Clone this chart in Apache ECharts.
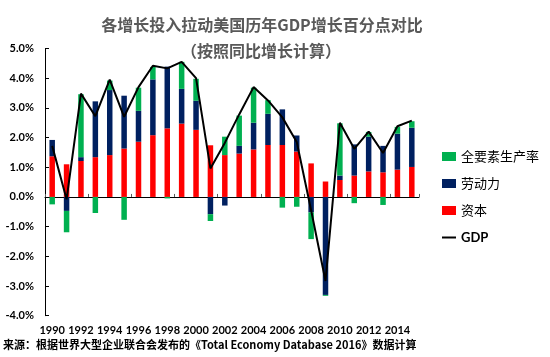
<!DOCTYPE html>
<html>
<head>
<meta charset="utf-8">
<script src="https://cdn.jsdelivr.net/npm/echarts@6/dist/echarts.min.js"></script>
<style>html,body{margin:0;padding:0;background:#fff;}#c{width:550px;height:357px;}</style>
</head>
<body>
<div id="c"></div>
<script>
const years = ['1990','1991','1992','1993','1994','1995','1996','1997','1998','1999','2000','2001','2002','2003','2004','2005','2006','2007','2008','2009','2010','2011','2012','2013','2014','2015'];
const capital = [1.37,1.10,1.21,1.34,1.41,1.63,1.86,2.08,2.31,2.47,2.26,1.74,1.41,1.46,1.60,1.75,1.75,1.53,1.13,0.52,0.57,0.72,0.86,0.83,0.92,1.01];
const labor   = [0.55,-0.47,0.13,1.88,2.19,1.78,1.04,1.88,2.08,1.17,0.98,-0.58,-0.29,0.26,0.90,1.05,1.20,0.54,-0.52,-3.30,0.15,1.05,1.17,0.89,1.21,1.32];
const tfp     = [-0.25,-0.72,2.12,-0.54,0.32,-0.77,0.78,0.42,-0.05,0.91,0.74,-0.23,0.62,1.02,1.18,0.46,-0.36,-0.33,-0.90,-0.03,1.76,-0.21,0.16,-0.27,0.23,0.22];
const gdp     = [1.72,-0.08,3.48,2.72,3.95,2.70,3.70,4.42,4.33,4.55,4.00,0.96,1.82,2.78,3.70,3.25,2.68,1.85,-0.45,-2.83,2.50,1.62,2.20,1.48,2.38,2.57];
const yTicks = {min:-4, max:5, interval:1};

const chart = echarts.init(document.getElementById('c'), null, {renderer:'canvas'});
const cjk = "'Noto Sans CJK SC', sans-serif";
const num = "Lato, 'Noto Sans CJK SC', sans-serif";
const barW = 5.5;
chart.setOption({
  animation:false,
  backgroundColor:'#fff',
  graphic:[
    {type:'text', x:262, y:25, style:{text:'各增长投入拉动美国历年GDP增长百分点对比', font:"bold 16px 'Noto Sans CJK SC'", fill:'#595959', align:'center', verticalAlign:'middle'}},
    {type:'text', x:261, y:51, style:{text:'（按照同比增长计算）', font:"bold 16px 'Noto Sans CJK SC'", fill:'#595959', align:'center', verticalAlign:'middle'}},
    {type:'text', x:3, y:345, style:{text:'来源：根据世界大型企业联合会发布的《Total Economy Database 2016》数据计算', font:"bold 11px 'Noto Sans CJK SC'", fill:'#000', align:'left', verticalAlign:'middle'}}
  ],
  legend:{
    orient:'vertical', left:437, top:145, itemWidth:14, itemHeight:9, itemGap:14,
    textStyle:{fontFamily:cjk, fontSize:13, color:'#000'},
    data:[{name:'全要素生产率', icon:'rect'},{name:'劳动力', icon:'rect'},{name:'资本', icon:'rect'},
          {name:'GDP', icon:'path://M0,0H14V2H0Z', itemStyle:{color:'#000'}, textStyle:{fontWeight:'bold', fontFamily:num}}]
  },
  grid:{left:45, right:131, top:48.5, bottom:41.3, containLabel:false},
  xAxis:[
    {type:'category', data:years, position:'bottom', axisLine:{show:false, onZero:false}, axisTick:{show:false},
     axisLabel:{interval:1, margin:9, fontFamily:num, fontWeight:'bold', fontSize:11, color:'#000'}},
    {type:'category', data:years, position:'bottom', axisLine:{show:true, onZero:true, lineStyle:{color:'#000', width:1}},
     axisTick:{show:true, inside:true, length:3, lineStyle:{color:'#595959'}}, axisLabel:{show:false}}
  ],
  yAxis:{type:'value', min:yTicks.min, max:yTicks.max, interval:yTicks.interval,
    axisLine:{show:true, lineStyle:{color:'#000'}}, axisTick:{show:true, inside:true, length:4, lineStyle:{color:'#000'}},
    splitLine:{show:false},
    axisLabel:{margin:11, fontFamily:num, fontWeight:'bold', fontSize:11, color:'#000', formatter:v=>v.toFixed(1)+'%'}},
  series:[
    {name:'资本', type:'bar', stack:'s', barWidth:barW, data:capital, itemStyle:{color:'#FF0000'}},
    {name:'劳动力', type:'bar', stack:'s', barWidth:barW, data:labor, itemStyle:{color:'#002060'}},
    {name:'全要素生产率', type:'bar', stack:'s', barWidth:barW, data:tfp, itemStyle:{color:'#00B050'}},
    {name:'GDP', type:'line', data:gdp, symbol:'none', lineStyle:{color:'#000', width:2}, itemStyle:{color:'#000'}, z:5}
  ]
});
</script>
</body>
</html>
